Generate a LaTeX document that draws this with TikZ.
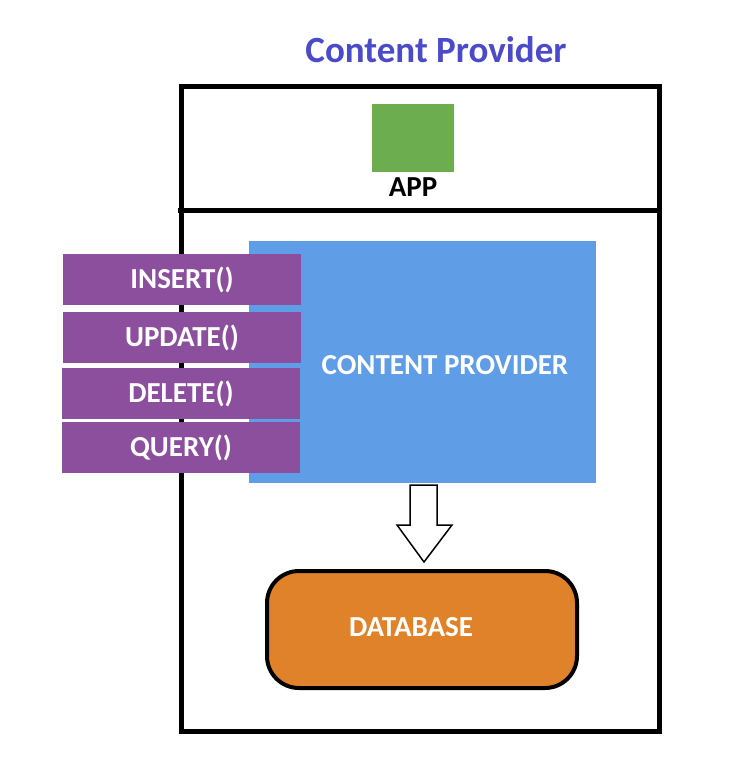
\documentclass[tikz,border=0pt]{standalone}
\usepackage{fontspec}
\setmainfont{Carlito}
\definecolor{titleblue}{HTML}{4B4BC9}
\definecolor{appgreen}{HTML}{6CAD50}
\definecolor{cpblue}{HTML}{5F9EE6}
\definecolor{oppurple}{HTML}{8B4F9E}
\definecolor{dborange}{HTML}{E0822A}
\begin{document}
\begin{tikzpicture}[x=1pt,y=-1pt,
  lbl/.style={font=\fontsize{29}{29}\selectfont\bfseries, inner sep=0pt},
  opbox/.style={fill=oppurple, minimum width=238pt, minimum height=51pt, inner sep=0pt, text=white, font=\fontsize{29}{29}\selectfont\bfseries},
  frame/.style={draw=black, line width=5pt}]
\useasboundingbox (0,0) rectangle (748,776);
% title
\node[font=\fontsize{37}{37}\selectfont\bfseries, text=titleblue, inner sep=0pt] (title) at (436,50) {Content Provider};
% outer frame
\draw[frame] (181,86) rectangle (659,731);
\coordinate (divl) at (178,210);
\coordinate (divr) at (659,210);
\draw[frame] (divl) -- (divr);
% app
\node[fill=appgreen, minimum width=82pt, minimum height=68pt, inner sep=0pt] (app) at (413,138) {};
\node[lbl, text=black] (applbl) at (413,187) {APP};
% content provider
\node[fill=cpblue, minimum width=347pt, minimum height=242pt, inner sep=0pt] (cp) at (422.5,362) {};
\node[lbl, text=white] (cplbl) at (445,365) {CONTENT PROVIDER};
% operations
\node[opbox] (ins) at (182,279.5) {INSERT()};
\node[opbox] (upd) at (182,337.5) {UPDATE()};
\node[opbox] (del) at (181,393.5) {DELETE()};
\node[opbox] (qry) at (181,447.5) {QUERY()};
% database
\node[draw=black, line width=4pt, fill=dborange, rounded corners=32pt, minimum width=310pt, minimum height=117pt, inner sep=0pt] (db) at (422,629.5) {};
\node[lbl, text=white] (dblbl) at (411,627) {DATABASE};
% hollow arrow
\draw[line width=1.5pt, fill=white, line join=miter]
  (410,485) -- (437,485) -- (437,525) -- (452,525) -- (424,562) -- (397,525) -- (410,525) -- cycle;
\end{tikzpicture}
\end{document}
